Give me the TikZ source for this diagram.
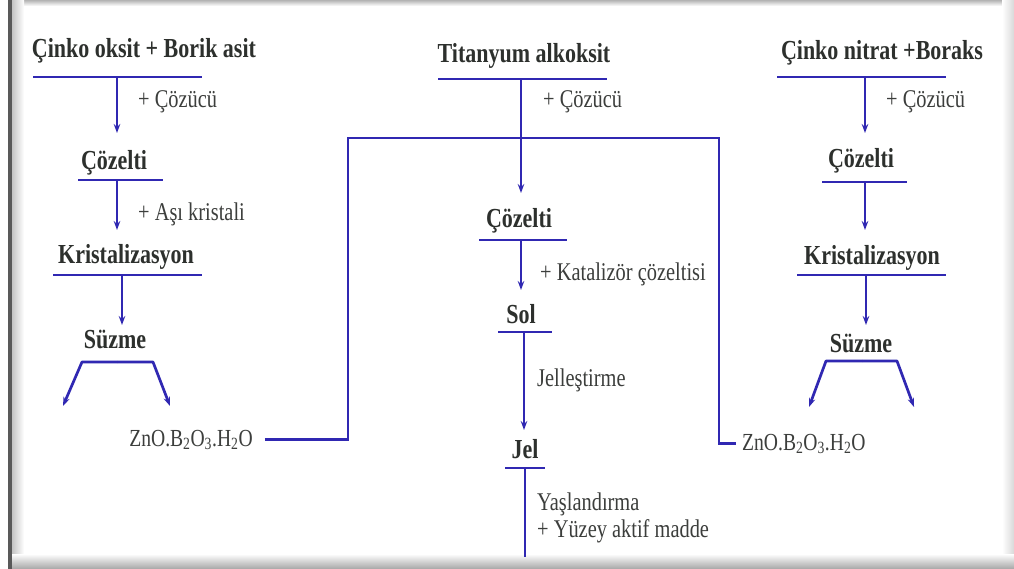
\documentclass[tikz,border=0pt]{standalone}
\usepackage{fontspec}
\setmainfont{Liberation Serif}[FakeStretch=0.8]
\usetikzlibrary{arrows.meta}
\definecolor{flow}{RGB}{48,40,178}
\definecolor{ink}{RGB}{45,48,45}
\definecolor{labink}{RGB}{60,62,60}
\begin{document}
\begin{tikzpicture}[x=1pt,y=-1pt,
  title/.style={font=\fontsize{27.5}{31}\selectfont\bfseries, text=ink, inner sep=2pt, anchor=base},
  lab/.style={font=\fontsize{25.5}{29}\selectfont, text=labink, inner sep=0pt, anchor=base west},
  formula/.style={font=\fontsize{24.5}{28}\selectfont, text=labink, inner ysep=0pt},
  bar/.style={draw=flow, line width=2.7pt},
  link/.style={draw=flow, line width=2.7pt},
  arr/.style={draw=flow, line width=2.7pt, line join=round, -{Stealth[length=9pt,width=6.5pt]}}]
\useasboundingbox (0,0) rectangle (1014,569);
\fill[white] (0,0) rectangle (1014,569);
% frame
\shade[top color=gray!60, bottom color=white] (8,0) rectangle (1014,6);
\shade[left color=gray!50, right color=white] (11,0) rectangle (24,569);
\shade[left color=white, right color=gray!30] (1002,0) rectangle (1014,569);
\shade[top color=white, bottom color=gray!70] (8,554) rectangle (1014,569);
\fill[gray!70!black] (8,0) rectangle (11.5,569);

% ---------- left column ----------
\node[title] (t1) at (144,58) {Çinko oksit + Borik asit};
\coordinate (b1l) at (33,77); \coordinate (b1r) at (202,77);
\coordinate (b1c) at (117,77); \coordinate (a1) at (117,133);
\draw[bar] (b1l) -- (b1r);
\draw[arr] (b1c) -- (a1);
\node[lab] (l1) at (138,108) {+ Çözücü};

\node[title] (s1) at (114,170) {Çözelti};
\coordinate (b2l) at (78,180); \coordinate (b2r) at (163,180);
\coordinate (b2c) at (117,180); \coordinate (a2) at (117,230);
\draw[bar] (b2l) -- (b2r);
\draw[arr] (b2c) -- (a2);
\node[lab] (l2) at (138,221) {+ Aşı kristali};

\node[title] (k1) at (126,263) {Kristalizasyon};
\coordinate (b3l) at (53,275); \coordinate (b3r) at (202,275);
\coordinate (b3c) at (122,275); \coordinate (a3) at (122,325);
\draw[bar] (b3l) -- (b3r);
\draw[arr] (b3c) -- (a3);

\node[title] (z1) at (115,348) {Süzme};
\coordinate (p1m) at (117,362); \coordinate (p1l) at (82,362); \coordinate (p1r) at (153,362);
\coordinate (q1l) at (63,406); \coordinate (q1r) at (170,406);
\draw[arr] (p1m) -- (p1l) -- (q1l);
\draw[arr] (p1m) -- (p1r) -- (q1r);

\node[formula, inner xsep=12pt, anchor=base] (zn1) at (191,446) {ZnO.B\textsubscript{2}O\textsubscript{3}.H\textsubscript{2}O};

% ---------- middle column ----------
\node[title] (t2) at (524,63) {Titanyum alkoksit};
\coordinate (b4l) at (438,79); \coordinate (b4r) at (607,79);
\coordinate (b4c) at (521,79); \coordinate (a4) at (521,193);
\draw[bar] (b4l) -- (b4r);
\draw[arr] (b4c) -- (a4);
\node[lab] (l3) at (543,108) {+ Çözücü};

\node[title] (s2) at (519,228) {Çözelti};
\coordinate (b5l) at (479,240); \coordinate (b5r) at (567,240);
\coordinate (b5c) at (521,240); \coordinate (a5) at (521,290);
\draw[bar] (b5l) -- (b5r);
\draw[arr] (b5c) -- (a5);
\node[lab] (l4) at (540,280) {+ Katalizör çözeltisi};

\node[title] (sol) at (521,323) {Sol};
\coordinate (b6l) at (498,332); \coordinate (b6r) at (552,332);
\coordinate (b6c) at (524,332); \coordinate (a6) at (524,430);
\draw[bar] (b6l) -- (b6r);
\draw[arr] (b6c) -- (a6);
\node[lab] (l5) at (537,386) {Jelleştirme};

\node[title] (jel) at (525,458) {Jel};
\coordinate (b7l) at (505,468); \coordinate (b7r) at (545,468);
\coordinate (b7c) at (525,468); \coordinate (e7) at (525,557);
\draw[bar] (b7l) -- (b7r);
\draw[link] (b7c) -- (e7);
\node[lab] (l6) at (537,510) {Yaşlandırma};
\node[lab] (l7) at (537,537) {+ Yüzey aktif madde};

% ---------- right column ----------
\node[title] (t3) at (882,60) {Çinko nitrat +Boraks};
\coordinate (b8l) at (777,77); \coordinate (b8r) at (946,77);
\coordinate (b8c) at (865,77); \coordinate (a8) at (865,133);
\draw[bar] (b8l) -- (b8r);
\draw[arr] (b8c) -- (a8);
\node[lab] (l8) at (886,108) {+ Çözücü};

\node[title] (s3) at (861,168) {Çözelti};
\coordinate (b9l) at (822,182); \coordinate (b9r) at (907,182);
\coordinate (b9c) at (865,182); \coordinate (a9) at (865,230);
\draw[bar] (b9l) -- (b9r);
\draw[arr] (b9c) -- (a9);

\node[title] (k2) at (872,265) {Kristalizasyon};
\coordinate (b10l) at (797,275); \coordinate (b10r) at (946,275);
\coordinate (b10c) at (866,275); \coordinate (a10) at (866,325);
\draw[bar] (b10l) -- (b10r);
\draw[arr] (b10c) -- (a10);

\node[title] (z2) at (861,352) {Süzme};
\coordinate (p2m) at (862,361); \coordinate (p2l) at (826,361); \coordinate (p2r) at (897,361);
\coordinate (q2l) at (809,407); \coordinate (q2r) at (914,407);
\draw[arr] (p2m) -- (p2l) -- (q2l);
\draw[arr] (p2m) -- (p2r) -- (q2r);

\node[formula, inner xsep=6pt, anchor=base west] (zn2) at (736,450) {ZnO.B\textsubscript{2}O\textsubscript{3}.H\textsubscript{2}O};

% ---------- connecting line ----------
\coordinate (c1) at (348,138); \coordinate (c2) at (719,138);
\draw[link] (zn1.east) -| (c1) -- (c2) |- (zn2.west);
\end{tikzpicture}
\end{document}
